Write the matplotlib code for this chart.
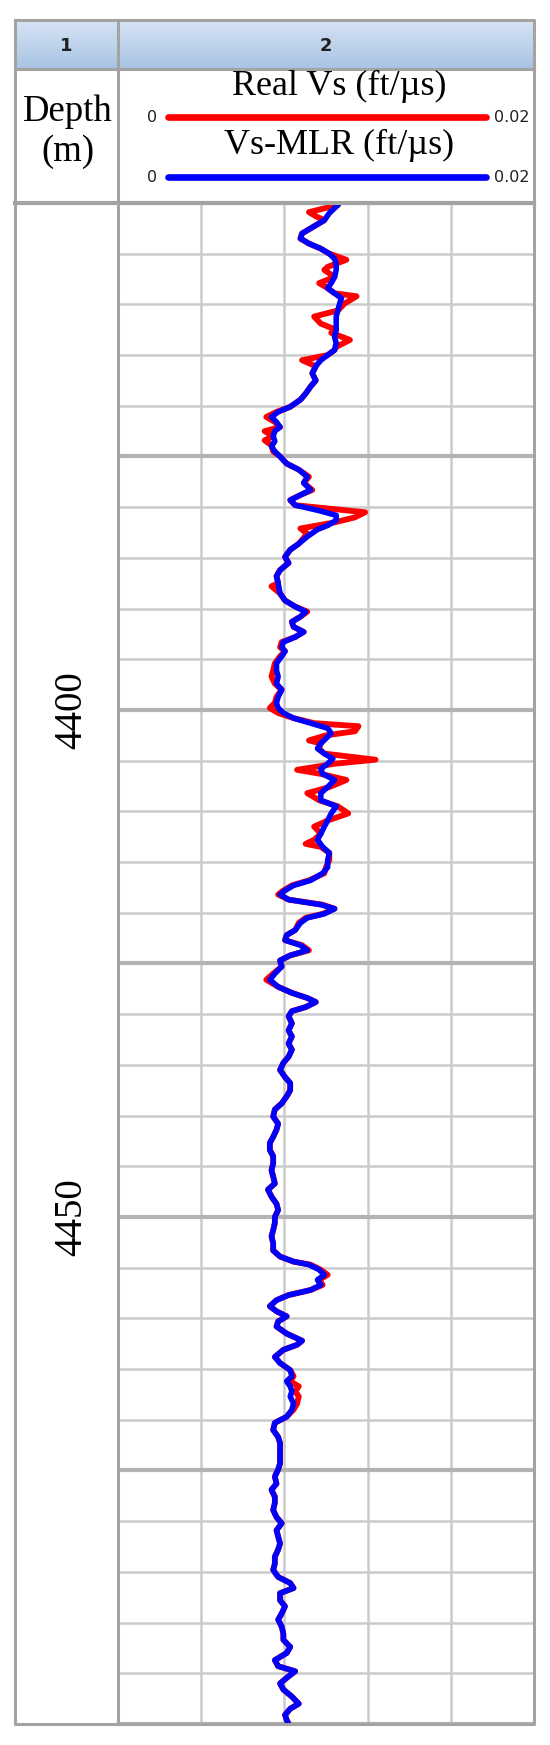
import matplotlib
matplotlib.use("Agg")
import matplotlib.pyplot as plt
import numpy as np

# ---------------- data ----------------
depth_top, depth_bot = 4350, 4500
x_min, x_max = 0.0, 0.02
col_labels = ["1", "2"]
depth_labels = [4400, 4450]
curve_names = ["Real Vs (ft/\u00b5s)", "Vs-MLR (ft/\u00b5s)"]
scale_left = ["0", "0"]
scale_right = ["0.02", "0.02"]

mlr_depth = [
    4349.8, 4350.2, 4351.0, 4351.7, 4352.3, 4353.0, 4353.5, 4354.0, 4354.5, 4355.0, 4355.5, 4356.0,
    4356.6, 4357.3, 4357.9, 4358.4, 4358.9, 4359.4, 4359.9, 4360.6, 4361.2, 4361.9, 4362.5, 4363.2,
    4363.8, 4364.5, 4365.0, 4365.5, 4366.1, 4366.8, 4367.5, 4368.1, 4368.8, 4369.4, 4370.1, 4370.6,
    4371.1, 4371.6, 4372.1, 4372.5, 4373.0, 4373.5, 4374.0, 4374.5, 4375.0, 4375.7, 4376.3, 4377.0,
    4377.6, 4378.3, 4378.8, 4379.3, 4379.8, 4380.3, 4380.8, 4381.3, 4381.8, 4382.2, 4382.9, 4383.6,
    4384.2, 4384.9, 4385.5, 4386.2, 4386.8, 4387.5, 4388.5, 4389.2, 4389.8, 4390.3, 4390.8, 4391.3,
    4391.8, 4392.3, 4392.8, 4393.3, 4393.8, 4394.2, 4394.7, 4395.4, 4396.1, 4396.7, 4397.4, 4398.0,
    4398.7, 4399.3, 4399.8, 4400.3, 4400.8, 4401.3, 4401.8, 4402.3, 4402.8, 4403.3, 4403.8, 4404.3,
    4404.8, 4405.3, 4405.8, 4406.3, 4406.9, 4407.6, 4408.2, 4408.9, 4409.5, 4410.2, 4410.9, 4411.5,
    4412.2, 4412.8, 4413.5, 4414.1, 4414.8, 4415.5, 4416.1, 4416.8, 4417.3, 4417.8, 4418.2, 4418.7,
    4419.2, 4419.6, 4420.1, 4420.5, 4421.0, 4421.7, 4422.2, 4422.7, 4423.2, 4423.7, 4424.2, 4424.7,
    4425.3, 4426.0, 4426.6, 4427.3, 4427.9, 4428.4, 4428.8, 4429.3, 4429.7, 4430.2, 4430.9, 4431.6,
    4432.2, 4432.9, 4433.5, 4434.2, 4434.8, 4435.5, 4436.2, 4436.8, 4437.5, 4438.1, 4438.8, 4439.4,
    4440.1, 4440.8, 4441.4, 4442.1, 4442.7, 4443.4, 4444.0, 4444.7, 4445.4, 4446.0, 4446.7, 4447.3,
    4448.0, 4448.7, 4449.3, 4450.0, 4450.6, 4451.3, 4451.9, 4452.6, 4453.3, 4453.9, 4454.4, 4454.7,
    4455.2, 4455.7, 4456.2, 4456.7, 4457.2, 4457.7, 4458.2, 4458.8, 4459.3, 4459.8, 4460.3, 4460.8,
    4461.5, 4462.2, 4462.6, 4463.1, 4463.8, 4464.4, 4465.1, 4465.7, 4466.2, 4466.7, 4467.2, 4467.7,
    4468.4, 4469.0, 4469.7, 4470.3, 4471.0, 4471.7, 4472.3, 4473.0, 4473.6, 4474.3, 4474.9, 4475.6,
    4476.3, 4476.9, 4477.6, 4478.2, 4478.9, 4479.6, 4480.2, 4480.9, 4481.5, 4482.2, 4482.8, 4483.5,
    4484.2, 4484.8, 4485.5, 4486.1, 4486.6, 4487.1, 4487.8, 4488.4, 4489.1, 4489.7, 4490.4, 4491.1,
    4491.7, 4492.4, 4493.0, 4493.7, 4494.3, 4494.8, 4495.3, 4496.0, 4496.6, 4497.3, 4498.0, 4498.5,
    4499.1, 4499.6, 4500.0,
]
mlr_vs = [
    0.01066, 0.01057, 0.01016, 0.00992, 0.00943, 0.00885, 0.00877, 0.00918, 0.00975, 0.01016, 0.01041, 0.01049,
    0.01049, 0.01041, 0.01025, 0.01008, 0.01041, 0.01074, 0.01066, 0.01057, 0.01049, 0.01049, 0.01049, 0.01041,
    0.01049, 0.01041, 0.01008, 0.00975, 0.00951, 0.00934, 0.00951, 0.00926, 0.00902, 0.00877, 0.00828, 0.00770,
    0.00738, 0.00762, 0.00779, 0.00754, 0.00746, 0.00754, 0.00738, 0.00754, 0.00779, 0.00811, 0.00869, 0.00910,
    0.00893, 0.00926, 0.00877, 0.00828, 0.00852, 0.00959, 0.01049, 0.01049, 0.01008, 0.00959, 0.00910, 0.00869,
    0.00828, 0.00803, 0.00820, 0.00779, 0.00762, 0.00770, 0.00779, 0.00803, 0.00852, 0.00902, 0.00877, 0.00836,
    0.00844, 0.00893, 0.00852, 0.00795, 0.00787, 0.00803, 0.00787, 0.00762, 0.00762, 0.00770, 0.00762, 0.00787,
    0.00770, 0.00762, 0.00770, 0.00795, 0.00844, 0.00926, 0.01008, 0.01025, 0.01000, 0.00975, 0.00959, 0.00992,
    0.01033, 0.01008, 0.00975, 0.00984, 0.01041, 0.01008, 0.00975, 0.00975, 0.01049, 0.01025, 0.01008, 0.00992,
    0.00975, 0.00959, 0.00984, 0.01016, 0.01008, 0.01008, 0.00984, 0.00926, 0.00844, 0.00803, 0.00779, 0.00820,
    0.00975, 0.01041, 0.00992, 0.00910, 0.00877, 0.00852, 0.00811, 0.00803, 0.00877, 0.00910, 0.00828, 0.00779,
    0.00787, 0.00754, 0.00730, 0.00770, 0.00836, 0.00910, 0.00951, 0.00902, 0.00836, 0.00820, 0.00836, 0.00820,
    0.00836, 0.00820, 0.00836, 0.00820, 0.00795, 0.00779, 0.00803, 0.00828, 0.00828, 0.00811, 0.00787, 0.00754,
    0.00746, 0.00770, 0.00762, 0.00746, 0.00730, 0.00730, 0.00746, 0.00746, 0.00738, 0.00746, 0.00754, 0.00721,
    0.00738, 0.00762, 0.00770, 0.00754, 0.00754, 0.00746, 0.00738, 0.00746, 0.00746, 0.00779, 0.00844, 0.00918,
    0.00967, 0.00992, 0.00959, 0.00975, 0.00926, 0.00820, 0.00762, 0.00730, 0.00762, 0.00811, 0.00770, 0.00762,
    0.00811, 0.00885, 0.00861, 0.00795, 0.00754, 0.00779, 0.00828, 0.00836, 0.00811, 0.00828, 0.00836, 0.00828,
    0.00844, 0.00836, 0.00811, 0.00754, 0.00746, 0.00770, 0.00779, 0.00779, 0.00779, 0.00779, 0.00770, 0.00754,
    0.00762, 0.00738, 0.00754, 0.00754, 0.00746, 0.00762, 0.00787, 0.00762, 0.00770, 0.00779, 0.00770, 0.00754,
    0.00754, 0.00746, 0.00770, 0.00828, 0.00844, 0.00779, 0.00779, 0.00803, 0.00787, 0.00770, 0.00787, 0.00795,
    0.00795, 0.00828, 0.00811, 0.00754, 0.00770, 0.00852, 0.00820, 0.00779, 0.00795, 0.00836, 0.00869, 0.00828,
    0.00803, 0.00811, 0.00820,
]

real_depth = [
    4349.8, 4350.2, 4350.9, 4351.3, 4351.7, 4352.3, 4353.0, 4353.5, 4354.0, 4354.5, 4355.0, 4355.6,
    4356.3, 4356.6, 4357.3, 4357.9, 4358.4, 4358.9, 4359.2, 4359.9, 4360.6, 4361.2, 4361.9, 4362.5,
    4362.8, 4363.5, 4364.2, 4364.5, 4365.0, 4365.5, 4366.1, 4366.8, 4367.5, 4368.1, 4368.8, 4369.4,
    4370.1, 4370.6, 4371.1, 4371.6, 4372.1, 4372.5, 4373.0, 4373.4, 4373.9, 4374.5, 4375.0, 4375.7,
    4376.3, 4377.0, 4377.6, 4378.3, 4378.8, 4379.3, 4379.8, 4380.5, 4381.0, 4381.5, 4382.1, 4382.6,
    4383.6, 4384.2, 4384.9, 4385.5, 4386.2, 4386.8, 4387.5, 4387.8, 4388.5, 4389.2, 4389.8, 4390.3,
    4390.8, 4391.3, 4391.8, 4392.3, 4392.8, 4393.3, 4393.8, 4394.2, 4394.7, 4395.4, 4396.1, 4396.7,
    4397.4, 4398.0, 4398.7, 4399.3, 4399.8, 4400.3, 4400.8, 4401.3, 4401.6, 4402.1, 4402.5, 4403.0,
    4403.3, 4403.8, 4404.3, 4404.9, 4405.3, 4405.9, 4406.3, 4406.9, 4407.6, 4408.2, 4408.9, 4409.5,
    4410.2, 4410.9, 4411.5, 4412.2, 4412.8, 4413.2, 4413.5, 4414.1, 4414.8, 4415.5, 4416.1, 4416.8,
    4417.3, 4417.8, 4418.2, 4418.7, 4419.2, 4419.6, 4420.1, 4420.5, 4421.0, 4421.7, 4422.2, 4422.7,
    4423.2, 4423.7, 4424.2, 4424.7,
    4425.3, 4426.0, 4426.6, 4427.3, 4427.9, 4428.4, 4428.8, 4429.3, 4429.7, 4430.2, 4430.9, 4431.6,
    4432.2, 4432.9, 4433.5, 4434.2, 4434.8, 4435.5, 4436.2, 4436.8, 4437.5, 4438.1, 4438.8, 4439.4,
    4440.1, 4440.8, 4441.4, 4442.1, 4442.7, 4443.4, 4444.0, 4444.7, 4445.4, 4446.0, 4446.7, 4447.3,
    4448.0, 4448.7, 4449.3, 4450.0, 4450.6, 4451.3, 4451.9, 4452.6, 4453.3, 4453.9, 4454.4, 4454.7,
    4455.2, 4455.7, 4456.2, 4456.7, 4457.2, 4457.7, 4458.2, 4458.8, 4459.3, 4459.8, 4460.3, 4460.8,
    4461.5, 4462.2, 4462.6, 4463.1, 4463.8, 4464.4, 4465.1, 4465.7, 4466.2, 4466.7, 4467.2, 4467.7,
    4468.4, 4469.0, 4469.7, 4470.3, 4471.0, 4471.7, 4472.3, 4473.0, 4473.6, 4474.3, 4474.9, 4475.6,
    4476.3, 4476.9, 4477.6, 4478.2, 4478.9, 4479.6, 4480.2, 4480.9, 4481.5, 4482.2, 4482.8, 4483.5,
    4484.2, 4484.8, 4485.5, 4486.1, 4486.6, 4487.1, 4487.8, 4488.4, 4489.1, 4489.7, 4490.4, 4491.1,
    4491.7, 4492.4, 4493.0, 4493.7, 4494.3, 4494.8, 4495.3, 4496.0, 4496.6, 4497.3, 4498.0, 4498.5,
    4499.1, 4499.6, 4500.0,
]
real_vs = [
    0.01066, 0.01057, 0.00918, 0.00951, 0.00992, 0.00943, 0.00885, 0.00877, 0.00918, 0.00975, 0.01016, 0.01098,
    0.01008, 0.00992, 0.01041, 0.00967, 0.01008, 0.01041, 0.01147, 0.01090, 0.01057, 0.00943, 0.00975, 0.01049,
    0.01025, 0.01115, 0.01049, 0.01041, 0.01008, 0.00885, 0.00951, 0.00934, 0.00951, 0.00926, 0.00902, 0.00877,
    0.00828, 0.00762, 0.00713, 0.00754, 0.00779, 0.00705, 0.00746, 0.00705, 0.00738, 0.00746, 0.00779, 0.00811,
    0.00869, 0.00918, 0.00893, 0.00934, 0.00877, 0.00828, 0.00852, 0.01188, 0.01139, 0.01041, 0.00877, 0.00910,
    0.00869, 0.00828, 0.00803, 0.00820, 0.00779, 0.00762, 0.00770, 0.00738, 0.00779, 0.00803, 0.00852, 0.00910,
    0.00877, 0.00836, 0.00844, 0.00893, 0.00852, 0.00787, 0.00779, 0.00803, 0.00779, 0.00754, 0.00746, 0.00738,
    0.00754, 0.00787, 0.00762, 0.00754, 0.00730, 0.00770, 0.00844, 0.00943, 0.01156, 0.01139, 0.01000, 0.00918,
    0.00975, 0.00967, 0.00992, 0.01238, 0.01041, 0.00861, 0.00975, 0.01098, 0.01016, 0.00910, 0.00967, 0.01057,
    0.01107, 0.01008, 0.00943, 0.00975, 0.00943, 0.00902, 0.00975, 0.01016, 0.01016, 0.01000, 0.00992, 0.00918,
    0.00836, 0.00795, 0.00770, 0.00820, 0.00984, 0.01041, 0.00984, 0.00902, 0.00869, 0.00852, 0.00811, 0.00803,
    0.00885, 0.00918, 0.00828, 0.00779,
    0.00787, 0.00746, 0.00713, 0.00770, 0.00836, 0.00910, 0.00951, 0.00902, 0.00836, 0.00820, 0.00836, 0.00820,
    0.00836, 0.00820, 0.00836, 0.00820, 0.00795, 0.00779, 0.00803, 0.00828, 0.00828, 0.00811, 0.00787, 0.00754,
    0.00746, 0.00770, 0.00762, 0.00746, 0.00730, 0.00730, 0.00746, 0.00746, 0.00738, 0.00746, 0.00754, 0.00721,
    0.00738, 0.00762, 0.00770, 0.00754, 0.00754, 0.00746, 0.00738, 0.00746, 0.00746, 0.00779, 0.00844, 0.00926,
    0.00975, 0.01008, 0.00967, 0.00984, 0.00926, 0.00820, 0.00762, 0.00730, 0.00762, 0.00811, 0.00770, 0.00762,
    0.00811, 0.00885, 0.00861, 0.00795, 0.00754, 0.00779, 0.00828, 0.00844, 0.00828, 0.00869, 0.00852, 0.00869,
    0.00861, 0.00844, 0.00811, 0.00754, 0.00746, 0.00770, 0.00779, 0.00779, 0.00779, 0.00779, 0.00770, 0.00754,
    0.00762, 0.00738, 0.00754, 0.00754, 0.00746, 0.00762, 0.00787, 0.00762, 0.00770, 0.00779, 0.00770, 0.00754,
    0.00754, 0.00746, 0.00770, 0.00828, 0.00844, 0.00779, 0.00779, 0.00803, 0.00787, 0.00770, 0.00787, 0.00795,
    0.00795, 0.00828, 0.00811, 0.00754, 0.00770, 0.00852, 0.00820, 0.00779, 0.00795, 0.00836, 0.00869, 0.00828,
    0.00803, 0.00811, 0.00820,
]

# ---------------- layout (pixels) ----------------
W, H = 550, 1745
LEFT, MID, RIGHT = 15, 118, 534
TOP, ROW1, ROW2, BOT = 20, 69, 203, 1724
grid_col = "#cbcbcb"
major_col = "#b3b3b3"
border_col = "#a3a3a3"
serif = ["Liberation Serif", "DejaVu Serif"]

fig = plt.figure(figsize=(W / 100, H / 100), dpi=100)
fig.patch.set_facecolor("white")

def frac(x0, y0, x1, y1):
    return [x0 / W, (H - y1) / H, (x1 - x0) / W, (y1 - y0) / H]

# track
ax = fig.add_axes(frac(MID, ROW2, RIGHT, BOT))
ax.set_xlim(x_min, x_max)
ax.set_ylim(depth_bot, depth_top)
ax.set_xticks(np.arange(0, 0.0201, 0.004))
ax.set_yticks(np.arange(depth_top, depth_bot + 1, 25))
ax.set_yticks(np.arange(depth_top, depth_bot + 1, 5), minor=True)
ax.grid(which="minor", axis="y", color=grid_col, lw=1.8)
ax.grid(which="major", axis="y", color=major_col, lw=3.0)
ax.grid(which="major", axis="x", color=grid_col, lw=1.8)
ax.tick_params(which="both", length=0, labelleft=False, labelbottom=False)
ax.set_axisbelow(True)
for s in ax.spines.values():
    s.set_visible(False)
ax.plot(real_vs, real_depth, color="#ff0000", lw=4.2, solid_joinstyle="round", zorder=3)
ax.plot(mlr_vs, mlr_depth, color="#0000ff", lw=4.0, solid_joinstyle="round", zorder=4)

# depth column
axd = fig.add_axes(frac(LEFT, ROW2, MID, BOT))
axd.set_xlim(0, 1)
axd.set_ylim(depth_bot, depth_top)
axd.axis("off")
for d in depth_labels:
    axd.text(0.55, d, str(d), rotation=90, ha="center", va="center",
             fontsize=28, family=serif, color="black")

# overlay for header and borders
ov = fig.add_axes([0, 0, 1, 1])
ov.set_xlim(0, W)
ov.set_ylim(H, 0)
ov.axis("off")
grad = np.linspace(0, 1, 50)[:, None]
c_top = np.array([0.84, 0.89, 0.96])
c_bot = np.array([0.66, 0.77, 0.89])
img = c_top[None, None, :] * (1 - grad[:, :, None]) + c_bot[None, None, :] * grad[:, :, None]
ov.imshow(img, extent=(LEFT, RIGHT, ROW1, TOP), aspect="auto", zorder=0)
ov.set_xlim(0, W)
ov.set_ylim(H, 0)

ov.text((LEFT + MID) / 2, (TOP + ROW1) / 2 + 1, col_labels[0], ha="center", va="center",
        fontsize=13, fontweight="bold", color="#202020")
ov.text((MID + RIGHT) / 2, (TOP + ROW1) / 2 + 1, col_labels[1], ha="center", va="center",
        fontsize=13, fontweight="bold", color="#202020")

ov.text((LEFT + MID) / 2 + 1, 112, "Depth", ha="center", va="center", fontsize=26.5, family=serif)
ov.text((LEFT + MID) / 2 + 1, 152, "(m)", ha="center", va="center", fontsize=26.5, family=serif)

colors = ["#ff0000", "#0000ff"]
name_y = [86, 145]
line_y = [117, 177]
for name, c, ny, ly, sl, sr in zip(curve_names, colors, name_y, line_y, scale_left, scale_right):
    ov.text(339, ny, name, ha="center", va="center", fontsize=26, family=serif)
    ov.plot([168, 486], [ly, ly], color=c, lw=4.8, solid_capstyle="round")
    ov.text(152, ly, sl, ha="center", va="center", fontsize=11.5, color="#202020")
    ov.text(494, ly, sr, ha="left", va="center", fontsize=11.5, color="#202020")

# borders
bk = dict(color=border_col, lw=2.2, solid_capstyle="projecting")
ov.plot([LEFT, RIGHT, RIGHT, LEFT, LEFT], [TOP, TOP, BOT, BOT, TOP], **bk)
ov.plot([LEFT, RIGHT], [ROW1, ROW1], **bk)
ov.plot([LEFT, RIGHT], [ROW2, ROW2], color=border_col, lw=3.0)
ov.plot([MID, MID], [TOP, BOT], **bk)

fig.savefig("out.png", dpi=100, facecolor="white")
